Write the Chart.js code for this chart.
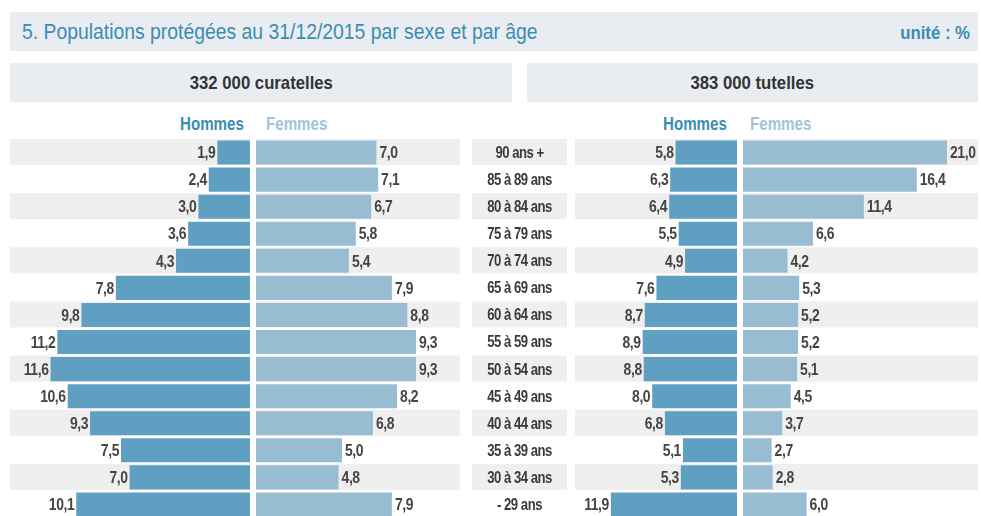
<!DOCTYPE html>
<html><head><meta charset="utf-8">
<script src="https://cdn.jsdelivr.net/npm/chart.js@4/dist/chart.umd.min.js"></script>
<style>
html,body{margin:0;padding:0;background:#fff}
body{width:981px;height:516px;overflow:hidden;position:relative;font-family:"Liberation Sans",Arial,sans-serif}
.band{position:absolute;background:#e9edf1}
.txt{position:absolute;white-space:nowrap;line-height:1}
.txt span{display:inline-block}
canvas{position:absolute}
</style></head>
<body>
<div class="band" style="left:10px;top:12px;width:968px;height:39px"></div>
<div class="txt" style="left:22px;top:21px;font-size:22px;color:#3a8db3"><span style="transform:scaleX(0.88);transform-origin:left center">5. Populations protégées au 31/12/2015 par sexe et par âge</span></div>
<div class="txt" style="right:11px;top:24px;font-size:18px;font-weight:bold;color:#3a8db3"><span style="transform:scaleX(0.93);transform-origin:right center">unité : %</span></div>

<div class="band" style="left:10px;top:63px;width:502px;height:39px"></div>
<div class="band" style="left:527px;top:63px;width:451px;height:39px"></div>
<div class="txt" style="left:10px;width:502px;text-align:center;top:73px;font-size:19px;font-weight:bold;color:#333"><span style="transform:scaleX(0.88);transform-origin:center">332 000 curatelles</span></div>
<div class="txt" style="left:527px;width:451px;text-align:center;top:73px;font-size:19px;font-weight:bold;color:#333"><span style="transform:scaleX(0.88);transform-origin:center">383 000 tutelles</span></div>

<div class="txt" style="left:180px;top:115px;font-size:18px;font-weight:bold;color:#3a8db3"><span style="transform:scaleX(0.84);transform-origin:left center">Hommes</span></div>
<div class="txt" style="left:266px;top:115px;font-size:18px;font-weight:bold;color:#a0c5da"><span style="transform:scaleX(0.84);transform-origin:left center">Femmes</span></div>
<div class="txt" style="left:663px;top:115px;font-size:18px;font-weight:bold;color:#3a8db3"><span style="transform:scaleX(0.84);transform-origin:left center">Hommes</span></div>
<div class="txt" style="left:750px;top:115px;font-size:18px;font-weight:bold;color:#a0c5da"><span style="transform:scaleX(0.84);transform-origin:left center">Femmes</span></div>

<canvas id="cH" width="240" height="379" style="left:10px;top:139px"></canvas>
<canvas id="cF" width="311" height="379" style="left:256px;top:139px"></canvas>
<canvas id="tH" width="162" height="379" style="left:575px;top:139px"></canvas>
<canvas id="tF" width="238" height="379" style="left:743px;top:139px"></canvas>

<script>
// ---- data ----
const ageLabels = ['90 ans +','85 à 89 ans','80 à 84 ans','75 à 79 ans','70 à 74 ans','65 à 69 ans','60 à 64 ans','55 à 59 ans','50 à 54 ans','45 à 49 ans','40 à 44 ans','35 à 39 ans','30 à 34 ans','- 29 ans'];
const curatellesHommes = [1.9,2.4,3.0,3.6,4.3,7.8,9.8,11.2,11.6,10.6,9.3,7.5,7.0,10.1];
const curatellesFemmes = [7.0,7.1,6.7,5.8,5.4,7.9,8.8,9.3,9.3,8.2,6.8,5.0,4.8,7.9];
const tutellesHommes = [5.8,6.3,6.4,5.5,4.9,7.6,8.7,8.9,8.8,8.0,6.8,5.1,5.3,11.9];
const tutellesFemmes = [21.0,16.4,11.4,6.6,4.2,5.3,5.2,5.2,5.1,4.5,3.7,2.7,2.8,6.0];

const COL_H = '#5f9fc1';
const COL_F = '#98bdd3';
const STRIPE = '#efefef';
const LABEL_FONT = '"Liberation Sans",Arial,sans-serif';

const fmt = v => v.toFixed(1).replace('.', ',');

function narrowText(ctx, text, x, y, align, sx) {
  ctx.save();
  ctx.translate(x, y);
  ctx.scale(sx, 1);
  ctx.textAlign = align;
  ctx.fillText(text, 0, 0);
  ctx.restore();
}

const pyramidPlugin = {
  id: 'pyramid',
  beforeDatasetsDraw(chart, args, o) {
    const ctx = chart.ctx, ys = chart.scales.y, ca = chart.chartArea;
    const n = chart.data.labels.length;
    const step = (ys.bottom - ys.top) / n;
    ctx.save();
    ctx.fillStyle = STRIPE;
    for (let i = 0; i < n; i += 2) {
      const yc = ys.getPixelForValue(i);
      const top = yc - step / 2;
      const x0 = o.stripeLeft != null ? o.stripeLeft : ca.left;
      const x1 = o.stripeRight != null ? o.stripeRight : ca.right;
      ctx.fillRect(x0, top, x1 - x0, step - 1);
      if (o.center) ctx.fillRect(o.center.left, top, o.center.right - o.center.left, step - 1);
    }
    if (o.center) {
      ctx.fillStyle = '#3a3a3a';
      ctx.font = 'bold 16px ' + LABEL_FONT;
      if ('letterSpacing' in ctx) ctx.letterSpacing = '-0.6px';
      ctx.textBaseline = 'middle';
      chart.data.labels.forEach((lab, i) => {
        narrowText(ctx, lab, (o.center.left + o.center.right) / 2, ys.getPixelForValue(i) + 1, 'center', 0.82);
      });
    }
    ctx.restore();
  },
  afterDatasetsDraw(chart, args, o) {
    const ctx = chart.ctx, ca = chart.chartArea;
    const meta = chart.getDatasetMeta(0);
    const vals = chart.data.datasets[0].data;
    ctx.save();
    ctx.fillStyle = '#444';
    ctx.font = 'bold 17px ' + LABEL_FONT;
    if ('letterSpacing' in ctx) ctx.letterSpacing = '-0.5px';
    ctx.textBaseline = 'middle';
    meta.data.forEach((bar, i) => {
      if (o.reverse) {
        narrowText(ctx, fmt(vals[i]), Math.max(bar.x, ca.left) - 2, bar.y + 1, 'right', 0.82);
      } else {
        narrowText(ctx, fmt(vals[i]), Math.min(bar.x, ca.right) + 3, bar.y + 1, 'left', 0.82);
      }
    });
    ctx.restore();
  }
};

function makeChart(id, values, color, max, reverse, pad, extra) {
  return new Chart(document.getElementById(id), {
    type: 'bar',
    data: {
      labels: ageLabels,
      datasets: [{ data: values, backgroundColor: color, borderWidth: 0,
                   barPercentage: 0.89, categoryPercentage: 1 }]
    },
    options: {
      indexAxis: 'y',
      responsive: false,
      animation: false,
      devicePixelRatio: 1,
      layout: { padding: pad },
      scales: {
        x: { display: false, min: 0, max: max, reverse: reverse },
        y: { display: false }
      },
      plugins: {
        legend: { display: false },
        tooltip: { enabled: false },
        pyramid: Object.assign({ reverse: reverse }, extra || {})
      }
    },
    plugins: [pyramidPlugin]
  });
}

// curatelles: ~17.2 px per point ; tutelles: ~10.6 px per point
makeChart('cH', curatellesHommes, COL_H, 240 / 17.2, true, { left: 0, right: 0, top: 0, bottom: 0 });
makeChart('cF', curatellesFemmes, COL_F, 204 / 17.2, false, { left: 0, right: 107, top: 0, bottom: 0 },
          { stripeRight: 204, center: { left: 216, right: 311 } });
makeChart('tH', tutellesHommes, COL_H, 162 / 10.6, true, { left: 0, right: 0, top: 0, bottom: 0 });
makeChart('tF', tutellesFemmes, COL_F, 204 / 10.6, false, { left: 0, right: 34, top: 0, bottom: 0 },
          { stripeRight: 235 });
</script>
</body></html>
